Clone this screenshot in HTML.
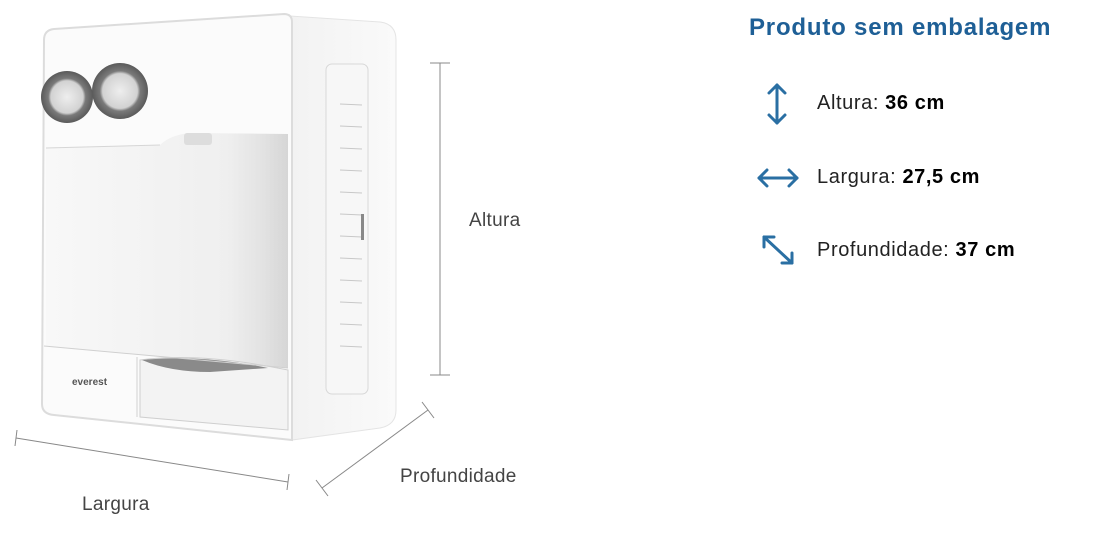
<!DOCTYPE html>
<html><head><style>
body{margin:0;background:#fff;width:1100px;height:529px;overflow:hidden;font-family:"Liberation Sans",sans-serif}
</style></head><body>
<svg width="1100" height="529" viewBox="0 0 1100 529" xmlns="http://www.w3.org/2000/svg">
<defs>
<linearGradient id="side" x1="0" x2="1"><stop offset="0" stop-color="#f2f2f2"/><stop offset="1" stop-color="#fafafa"/></linearGradient>
<linearGradient id="cav" x1="0" x2="1"><stop offset="0" stop-color="#f8f8f8"/><stop offset="0.75" stop-color="#efefef"/><stop offset="0.9" stop-color="#e2e2e2"/><stop offset="1" stop-color="#d6d6d6"/></linearGradient>
<radialGradient id="knob"><stop offset="0" stop-color="#eeeeee"/><stop offset="0.62" stop-color="#d2d2d2"/><stop offset="0.72" stop-color="#7a7a7a"/><stop offset="1" stop-color="#5a5a5a"/></radialGradient>
</defs>
<path d="M290 16 L380 22 Q396 24 396 40 L396 410 Q396 425 380 428 L292 440 Z" fill="url(#side)" stroke="#e4e4e4"/>
<rect x="326" y="64" width="42" height="330" rx="6" fill="#f7f7f7" stroke="#d8d8d8"/>
<g stroke="#c8c8c8" stroke-width="1">
<line x1="340" y1="104" x2="362" y2="105"/><line x1="340" y1="126" x2="362" y2="127"/><line x1="340" y1="148" x2="362" y2="149"/><line x1="340" y1="170" x2="362" y2="171"/><line x1="340" y1="192" x2="362" y2="193"/><line x1="340" y1="214" x2="362" y2="215"/><line x1="340" y1="236" x2="362" y2="237"/><line x1="340" y1="258" x2="362" y2="259"/><line x1="340" y1="280" x2="362" y2="281"/><line x1="340" y1="302" x2="362" y2="303"/><line x1="340" y1="324" x2="362" y2="325"/><line x1="340" y1="346" x2="362" y2="347"/>
</g>
<rect x="361" y="214" width="3" height="26" fill="#888"/>
<path d="M44 40 Q44 30 54 29 L284 14 Q292 14 292 22 L292 440 L54 415 Q42 414 42 404 Z" fill="#fbfbfb" stroke="#dcdcdc" stroke-width="2"/>
<path d="M46 148 L160 145 Q170 135 190 133 L288 134 L288 368 L46 346 Z" fill="url(#cav)"/>
<line x1="46" y1="148" x2="160" y2="145" stroke="#d6d6d6"/>
<rect x="184" y="133" width="28" height="12" fill="#ddd" rx="3"/>
<path d="M140 360 Q200 352 288 370 L288 430 L140 417 Z" fill="#f3f3f3" stroke="#cfcfcf"/>
<path d="M142 360 Q200 354 268 368 L210 372 Q170 372 142 360Z" fill="#8a8a8a"/>
<line x1="137" y1="357" x2="137" y2="417" stroke="#d0d0d0"/>
<line x1="44" y1="346" x2="288" y2="368" stroke="#d0d0d0"/>
<circle cx="67" cy="97" r="26" fill="url(#knob)"/>
<circle cx="120" cy="91" r="28" fill="url(#knob)"/>
<text x="72" y="385" font-size="10" fill="#555" font-weight="bold">everest</text>
<g stroke="#888" stroke-width="1" fill="none">
<line x1="440" y1="63" x2="440" y2="375"/><line x1="430" y1="63" x2="450" y2="63"/><line x1="430" y1="375" x2="450" y2="375"/>
<line x1="16" y1="438" x2="288" y2="482"/><line x1="17" y1="430" x2="15" y2="446"/><line x1="289" y1="474" x2="287" y2="490"/>
<line x1="322" y1="488" x2="428" y2="410"/><line x1="316" y1="480" x2="328" y2="496"/><line x1="422" y1="402" x2="434" y2="418"/>
</g>
<g font-size="19" fill="#444" letter-spacing="0.3">
<text x="469" y="226">Altura</text>
<text x="400" y="482">Profundidade</text>
<text x="82" y="510">Largura</text>
</g>
<text x="749" y="35" font-size="24" font-weight="bold" fill="#1e5f96" letter-spacing="0.8">Produto sem embalagem</text>
<g stroke="#2a6fa3" stroke-width="3" fill="none" stroke-linecap="round" stroke-linejoin="round">
<line x1="777" y1="85" x2="777" y2="123"/><polyline points="769,93 777,85 785,93"/><polyline points="769,115 777,123 785,115"/>
<line x1="759" y1="178" x2="797" y2="178"/><polyline points="767,170 759,178 767,186"/><polyline points="789,170 797,178 789,186"/>
<line x1="764" y1="237" x2="792" y2="263"/><polyline points="764,247 764,237 774,237"/><polyline points="782,263 792,263 792,253"/>
</g>
<g font-size="20" fill="#222" letter-spacing="0.6">
<text x="817" y="109">Altura: <tspan font-weight="bold" fill="#000">36 cm</tspan></text>
<text x="817" y="183">Largura: <tspan font-weight="bold" fill="#000">27,5 cm</tspan></text>
<text x="817" y="256">Profundidade: <tspan font-weight="bold" fill="#000">37 cm</tspan></text>
</g>
</svg>
</body></html>
